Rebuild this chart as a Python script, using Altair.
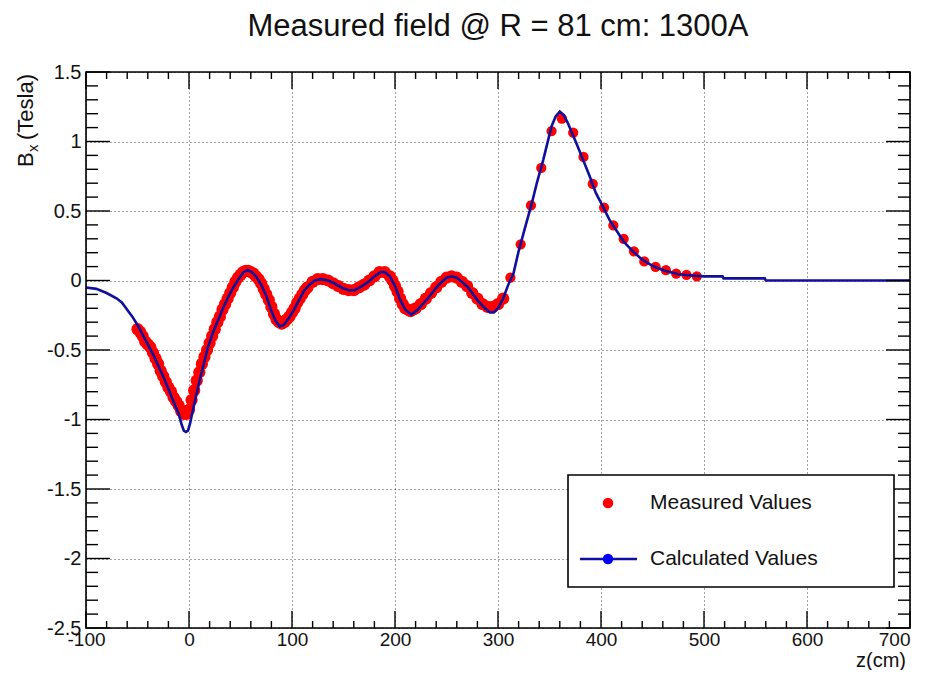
import altair as alt
import pandas as pd

# ---------------- data ----------------
# Calculated values (blue line): (z [cm], Bx [T])
calc_points = [
    (-100, -0.05), (-90, -0.06), (-80, -0.09), (-70, -0.13), (-65, -0.16), (-60, -0.21),
    (-55, -0.26), (-50, -0.32), (-45, -0.39), (-40, -0.46), (-35, -0.53), (-30, -0.61),
    (-25, -0.69), (-20, -0.78), (-15, -0.87), (-10, -0.96), (-7, -1.04), (-5, -1.08),
    (-3, -1.09), (-1, -1.08), (1, -1.03), (3, -0.96), (6, -0.86), (10, -0.73), (14, -0.61),
    (18, -0.49), (23, -0.38), (28, -0.29), (33, -0.20), (38, -0.12), (43, -0.05), (48, 0.01),
    (53, 0.06), (57, 0.075), (61, 0.06), (65, 0.03), (70, -0.03), (75, -0.11), (80, -0.22),
    (84, -0.29), (88, -0.33), (92, -0.32), (97, -0.27), (102, -0.21), (107, -0.14),
    (112, -0.07), (117, -0.03), (122, 0.0), (128, 0.01), (135, 0.0), (141, -0.02),
    (148, -0.05), (155, -0.07), (161, -0.07), (168, -0.04), (174, -0.01), (180, 0.03),
    (186, 0.06), (190, 0.06), (195, 0.03), (200, -0.04), (205, -0.14), (210, -0.21),
    (216, -0.245), (222, -0.21), (228, -0.16), (233, -0.12), (238, -0.07), (244, -0.02),
    (250, 0.02), (255, 0.03), (260, 0.02), (265, -0.01), (271, -0.05), (276, -0.10),
    (281, -0.15), (286, -0.19), (292, -0.23), (296, -0.23), (300, -0.20), (305, -0.13),
    (310, -0.03), (315, 0.05), (320, 0.21), (327, 0.40), (333, 0.56), (338, 0.71),
    (344, 0.87), (348, 0.99), (352, 1.11), (356, 1.18), (360, 1.215), (364, 1.19),
    (368, 1.13), (372, 1.06), (376, 0.99), (382, 0.88), (389, 0.75), (395, 0.63),
    (402, 0.53), (408, 0.44), (415, 0.36), (422, 0.28), (431, 0.21), (440, 0.15),
    (450, 0.105), (462, 0.07), (475, 0.045), (490, 0.035), (500, 0.03), (518, 0.03),
    (519, 0.015), (559, 0.015), (560, 0.0), (700, 0.0),
]

# Measured values (red dots): dense scan from -50 to 305 cm
meas_dense = [
    (-50, -0.35), (-47.5, -0.37), (-45, -0.40), (-42.5, -0.44), (-40, -0.46), (-37.5, -0.48),
    (-35, -0.52), (-32.5, -0.56), (-30, -0.60), (-27.5, -0.65), (-25, -0.69), (-22.5, -0.73),
    (-20, -0.77), (-17.5, -0.80), (-15, -0.84), (-12.5, -0.87), (-10, -0.90), (-7.5, -0.94),
    (-5, -0.96), (-2.5, -0.96), (0, -0.93), (2.5, -0.86), (5, -0.79), (7.5, -0.72),
    (10, -0.66), (12.5, -0.60), (15, -0.55), (17.5, -0.50), (20, -0.45), (22.5, -0.40),
    (25, -0.35), (27.5, -0.30), (30, -0.26), (32.5, -0.21), (35, -0.17), (37.5, -0.13),
    (40, -0.09), (42.5, -0.05), (45, -0.01), (47.5, 0.02), (50, 0.04), (52.5, 0.06),
    (55, 0.07), (57.5, 0.07), (60, 0.06), (62.5, 0.05), (65, 0.03), (67.5, 0.01),
    (70, -0.02), (72.5, -0.06), (75, -0.10), (77.5, -0.14), (80, -0.19), (82.5, -0.24),
    (85, -0.28), (87.5, -0.30), (90, -0.31), (92.5, -0.30), (95, -0.28), (97.5, -0.26),
    (100, -0.23), (102.5, -0.20), (105, -0.16), (107.5, -0.13),
    (110, -0.10), (112.5, -0.07), (115, -0.05), (120, -0.01), (125, 0.01), (130, 0.01),
    (135, 0.0), (140, -0.02), (145, -0.04), (150, -0.06), (155, -0.07), (160, -0.07),
    (165, -0.05), (170, -0.03), (175, 0.0), (180, 0.03), (185, 0.06), (190, 0.06),
    (195, 0.03), (197.5, 0.0), (200, -0.04), (202.5, -0.08), (205, -0.13), (207.5, -0.17),
    (210, -0.20), (212.5, -0.21), (215, -0.22), (217.5, -0.21),
    (220, -0.20), (225, -0.17), (230, -0.13), (235, -0.09), (240, -0.05), (245, -0.01),
    (250, 0.02), (255, 0.03), (260, 0.02), (265, -0.01), (270, -0.04), (275, -0.09),
    (280, -0.13), (285, -0.17), (290, -0.19), (295, -0.19), (300, -0.17), (305, -0.13),
]
# Measured values: sparse points above 310 cm
meas_sparse = [
    (312, 0.02), (322, 0.26), (332, 0.54), (342, 0.81), (352, 1.075), (362, 1.165),
    (373, 1.063), (383, 0.889), (392, 0.695), (403, 0.525), (412, 0.396), (422, 0.30),
    (432, 0.21), (442, 0.137), (453, 0.098), (463, 0.074), (473, 0.05), (483, 0.04),
    (493, 0.03),
]

x_major = [-100, 0, 100, 200, 300, 400, 500, 600, 700]
y_major = [-2.5, -2.0, -1.5, -1.0, -0.5, 0.0, 0.5, 1.0, 1.5]

title_text = "Measured field @ R = 81 cm: 1300A"
legend_labels = ["Measured Values", "Calculated Values"]

# ---------------- build ----------------
W, H = 824, 556
FONT = "Liberation Sans"

calc = pd.DataFrame(calc_points, columns=["z", "B"])
dense = pd.DataFrame(meas_dense, columns=["z", "B"])
sparse = pd.DataFrame(meas_sparse, columns=["z", "B"])

x_minor = [v for v in range(-100, 701, 20) if v % 100 != 0]
y_minor = [round(-2.5 + 0.1 * i, 2) for i in range(41)]
y_minor = [v for v in y_minor if abs(v * 2 - round(v * 2)) > 1e-6]

xs = alt.Scale(domain=[-100, 700], nice=False, zero=False)
ys = alt.Scale(domain=[-2.5, 1.5], nice=False, zero=False)

ax_x = alt.Axis(
    values=x_major, grid=True, gridDash=[1, 3], gridColor="#444", gridWidth=1,
    ticks=False, domain=False, labelFontSize=19, labelFont=FONT, labelColor="#111",
    labelPadding=2, labelFlush=False, labelOverlap=False, labelExpr="'' + datum.value",
    labelAlign={"condition": {"test": "datum.value >= 700", "value": "right"}, "value": "center"},
    title=None)
ax_y = alt.Axis(
    values=y_major, grid=True, gridDash=[1, 3], gridColor="#444", gridWidth=1,
    ticks=False, domain=False, labelFontSize=20, labelFont=FONT, labelColor="#111",
    labelPadding=5, labelFlush=False, labelOverlap=False, labelExpr="'' + datum.value",
    title=None)

one = pd.DataFrame({"k": [0]})

measured_dense = alt.Chart(dense).mark_circle(color="#ff0000", opacity=1, size=150).encode(
    x=alt.X("z:Q", scale=xs, axis=ax_x),
    y=alt.Y("B:Q", scale=ys, axis=ax_y),
)
measured_sparse = alt.Chart(sparse).mark_circle(color="#ff0000", opacity=1, size=105).encode(
    x=alt.X("z:Q", scale=xs, axis=ax_x),
    y=alt.Y("B:Q", scale=ys, axis=ax_y),
)

calculated = alt.Chart(calc).mark_line(color="#10109c", strokeWidth=2.6).encode(
    x=alt.X("z:Q", scale=xs, axis=ax_x),
    y=alt.Y("B:Q", scale=ys, axis=ax_y),
)

def xticks(vals, length):
    d = pd.DataFrame({"z": vals})
    bot = alt.Chart(d).mark_rule(color="black", strokeWidth=1.4).encode(
        x=alt.X("z:Q", scale=xs, axis=ax_x), y=alt.value(H), y2=alt.value(H - length))
    top = alt.Chart(d).mark_rule(color="black", strokeWidth=1.4).encode(
        x=alt.X("z:Q", scale=xs, axis=ax_x), y=alt.value(0), y2=alt.value(length))
    return [bot, top]

def yticks(vals, length):
    d = pd.DataFrame({"B": vals})
    left = alt.Chart(d).mark_rule(color="black", strokeWidth=1.4).encode(
        y=alt.Y("B:Q", scale=ys, axis=ax_y), x=alt.value(0), x2=alt.value(length))
    right = alt.Chart(d).mark_rule(color="black", strokeWidth=1.4).encode(
        y=alt.Y("B:Q", scale=ys, axis=ax_y), x=alt.value(W), x2=alt.value(W - length))
    return [left, right]

ticks = xticks(x_major, 17) + xticks(x_minor, 7) + yticks(y_major, 24) + yticks(y_minor, 12)

frame = alt.Chart(one).mark_rect(fill="transparent", stroke="black", strokeWidth=1.6).encode(
    x=alt.value(0), x2=alt.value(W), y=alt.value(0), y2=alt.value(H))

def text(t, x, y, size, **kw):
    return alt.Chart(one).mark_text(text=t, font=FONT, fontSize=size, color="#111", **kw).encode(
        x=alt.value(x), y=alt.value(y))

title = text(title_text, W / 2, -36, 31, align="center", baseline="alphabetic")
xtitle = text("z(cm)", W - 4, 595, 20, align="right", baseline="alphabetic")
ytitle_b = text("B", -53, 95, 22, angle=270, align="left", baseline="alphabetic")
ytitle_x = text("x", -48, 80, 15, angle=270, align="left", baseline="alphabetic")
ytitle_t = text("(Tesla)", -53, 68, 22, angle=270, align="left", baseline="alphabetic")

# legend
leg_box = alt.Chart(one).mark_rect(fill="white", stroke="black", strokeWidth=1.6).encode(
    x=alt.value(482), x2=alt.value(808), y=alt.value(403), y2=alt.value(515))
leg_dot1 = alt.Chart(one).mark_circle(color="#ff0000", opacity=1, size=110).encode(
    x=alt.value(522), y=alt.value(431))
leg_line = alt.Chart(one).mark_rule(color="#10109c", strokeWidth=2.6).encode(
    x=alt.value(494), x2=alt.value(551), y=alt.value(487))
leg_dot2 = alt.Chart(one).mark_circle(color="#0000ff", opacity=1, size=110).encode(
    x=alt.value(522), y=alt.value(487))
leg_t1 = text(legend_labels[0], 564, 431, 21, align="left", baseline="middle")
leg_t2 = text(legend_labels[1], 564, 487, 21, align="left", baseline="middle")

chart = alt.layer(
    measured_dense, measured_sparse, calculated, *ticks, frame,
    leg_box, leg_dot1, leg_line, leg_dot2, leg_t1, leg_t2,
    title, xtitle, ytitle_b, ytitle_x, ytitle_t,
).properties(
    width=W, height=H,
    padding={"left": 78, "top": 64, "right": 9, "bottom": 42},
    autosize=alt.AutoSizeParams(type="none"),
).configure_view(stroke=None).configure(background="white")

chart.save("out.html", embed_options={"renderer": "svg", "actions": False})
